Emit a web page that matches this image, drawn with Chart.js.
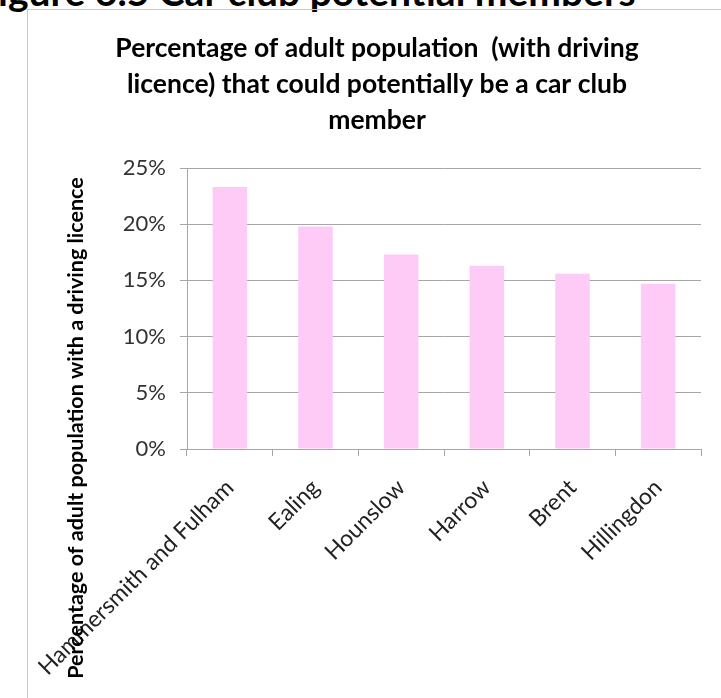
<!DOCTYPE html>
<html>
<head>
<meta charset="utf-8">
<script src="https://cdn.jsdelivr.net/npm/chart.js@4/dist/chart.umd.min.js"></script>
<style>
  html, body { margin: 0; padding: 0; background: #fff; overflow: hidden; }
  body { width: 721px; height: 698px; position: relative; }
  #caption {
    position: absolute; left: -24px; top: -28px;
    font: bold 39px/39px Lato, sans-serif; color: #000; white-space: nowrap;
  }
  #frame {
    position: absolute; left: 27px; top: 9px; width: 900px; height: 900px;
    border-left: 1px solid #c8c8c8; border-top: 1px solid #c8c8c8;
  }
  #wrap { position: absolute; left: 0; top: 0; width: 721px; height: 698px; }
</style>
</head>
<body>
<div id="caption">Figure 6.5 Car club potential members</div>
<div id="frame"></div>
<div id="wrap"><canvas id="chart"></canvas></div>
<script>
// boroughs and share of licence holders who could join a car club (%)
const boroughs = ['Hammersmith and Fulham', 'Ealing', 'Hounslow', 'Harrow', 'Brent', 'Hillingdon'];
const potentialShare = [23.3, 19.8, 17.3, 16.3, 15.6, 14.7];
const yTickValues = [0, 5, 10, 15, 20, 25];

const titleLines = [
  'Percentage of adult population  (with driving',
  'licence) that could potentially be a car club',
  'member'
];
const yTitle = 'Percentage of adult population with a driving licence';

Chart.defaults.font.family = 'Lato';

const axisGrey = '#a6a6a6';

// excel lets the axis title run past the plot, chart.js would squeeze it, so draw it by hand
const yTitlePlugin = {
  id: 'yTitle',
  afterDraw(chart) {
    const ctx = chart.ctx;
    ctx.save();
    ctx.font = 'bold 21.5px Lato';
    ctx.fillStyle = '#000';
    ctx.textAlign = 'center';
    ctx.textBaseline = 'alphabetic';
    ctx.translate(83, 428);
    ctx.rotate(-Math.PI / 2);
    ctx.fillText(yTitle, 0, 0);
    ctx.restore();
  }
};

const ctx = document.getElementById('chart').getContext('2d');
new Chart(ctx, {
  type: 'bar',
  data: {
    labels: boroughs,
    datasets: [
      {
        label: 'Potential members',
        data: potentialShare,
        backgroundColor: '#fdcbf6',
        borderWidth: 0,
        categoryPercentage: 1,
        barPercentage: 0.403
      }
    ]
  },
  options: {
    responsive: true,
    maintainAspectRatio: false,
    animation: false,
    layout: {
      padding: { left: 53, right: 20, top: 0, bottom: 0 }
    },
    plugins: {
      legend: { display: false },
      tooltip: { enabled: false },
      title: {
        display: true,
        text: titleLines,
        color: '#000',
        font: { family: 'Lato', size: 26.5, weight: 'bold', lineHeight: 1.3585 },
        padding: { top: 30, bottom: 30 }
      }
    },
    scales: {
      x: {
        grid: { drawOnChartArea: false, color: axisGrey, tickLength: 7, offset: true },
        border: { color: axisGrey },
        ticks: {
          font: { family: 'Lato', size: 23 },
          color: '#222',
          minRotation: 45,
          maxRotation: 45,
          autoSkip: false,
          padding: 18
        },
        afterFit(scale) {
          scale.height = 249;
        }
      },
      y: {
        min: 0,
        max: 25,
        grid: { color: axisGrey, tickLength: 7 },
        border: { color: axisGrey },
        ticks: {
          font: { family: 'Lato', size: 22 },
          color: '#333',
          padding: 14,
          callback: (v) => v + '%'
        },
        afterBuildTicks(scale) {
          scale.ticks = yTickValues.map((v) => ({ value: v }));
        },
        afterFit(scale) {
          scale.width = 134;
        }
      }
    }
  },
  plugins: [yTitlePlugin]
});
</script>
</body>
</html>
